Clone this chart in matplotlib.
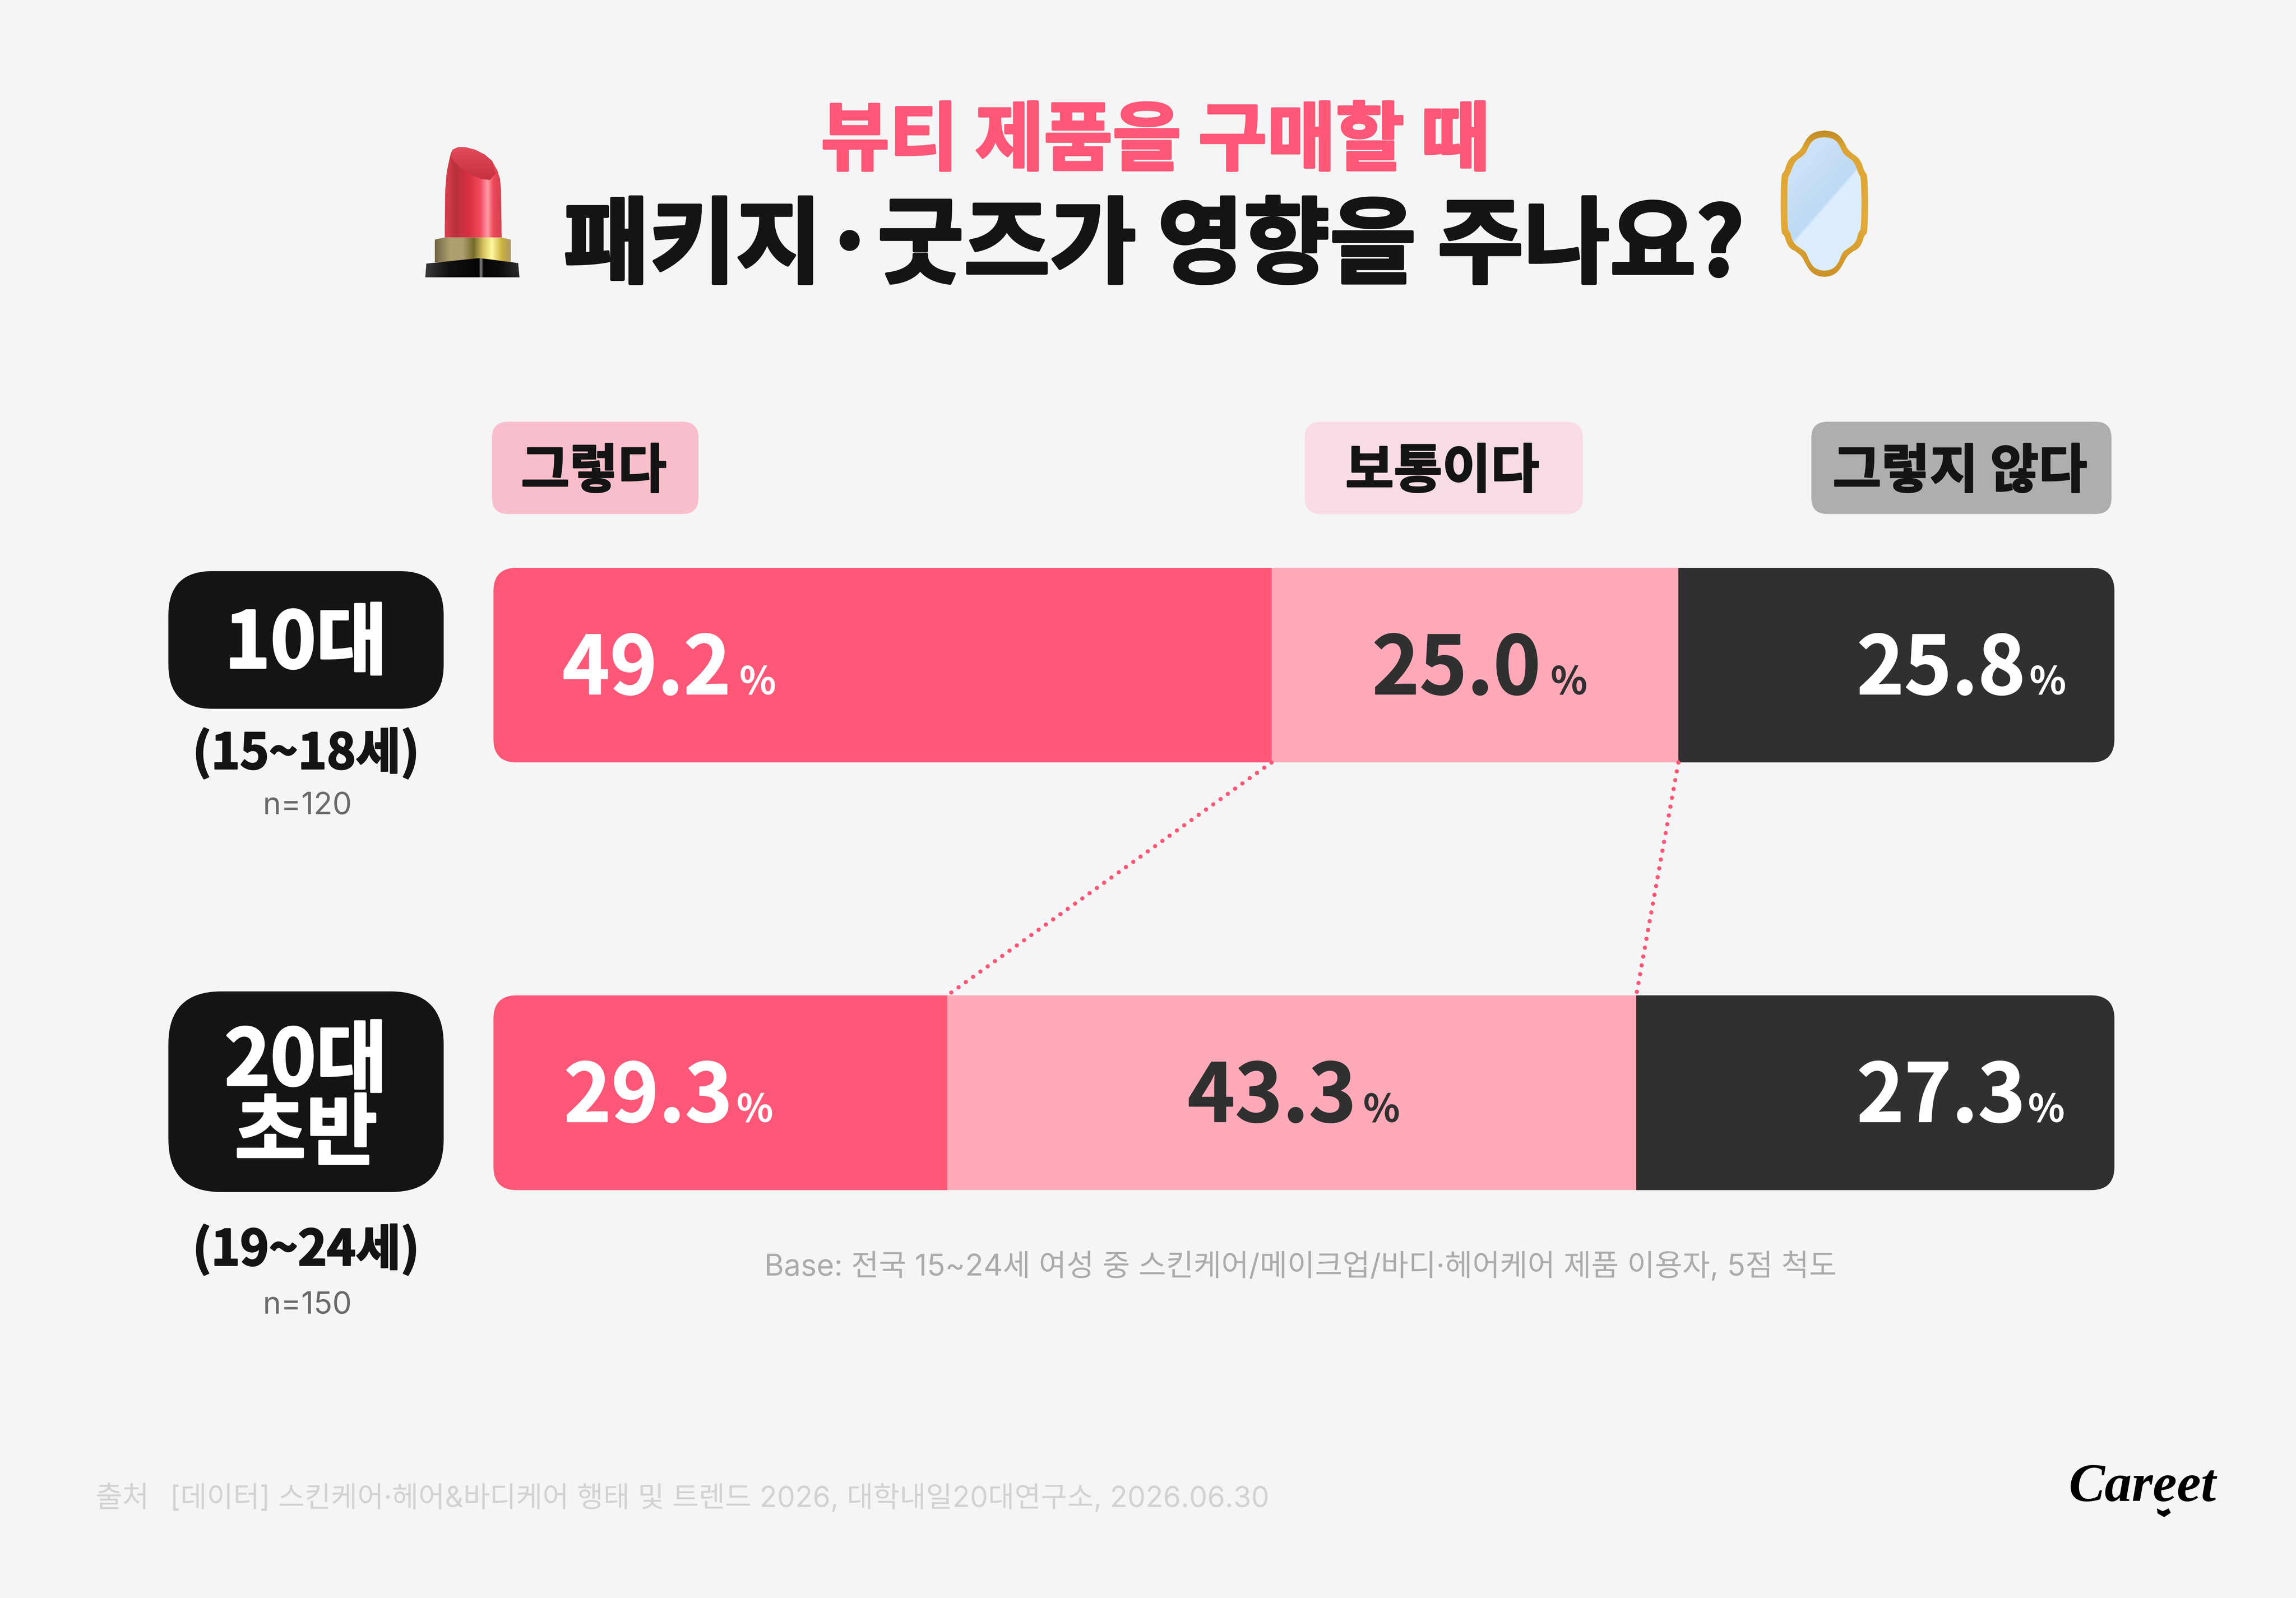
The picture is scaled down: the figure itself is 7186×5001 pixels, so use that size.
import matplotlib
matplotlib.use('Agg')
import matplotlib.pyplot as plt
import matplotlib.patheffects as pe
import numpy as np
from matplotlib.patches import FancyBboxPatch, Polygon
from matplotlib.colors import LinearSegmentedColormap

# Data: what the labels say, and the segment shares as drawn in the picture
groups = ['10대', '20대\n초반']
group_ages = ['(15~18세)', '(19~24세)']
group_n = ['n=120', 'n=150']
answers = ['그렇다', '보통이다', '그렇지 않다']
labels_10s = ['49.2', '25.0', '25.8']
labels_20s = ['29.3', '43.3', '27.3']
shares_10s = [48.0, 25.1, 26.9]
shares_20s = [28.0, 42.5, 29.5]

# Colours
BG = '#F5F5F5'
RED = '#FF5777'
PINK = '#FFA9B9'
DARK = '#303030'
BLACK = '#141414'
seg_colors = [RED, PINK, DARK]
text_colors = ['white', DARK, 'white']
tag_colors = ['#F9BECB', '#F8DCE4', '#AEAEB0']

W, H = 7186, 5001
DPI = 100
REF_W = 1568          # layout below is measured on a 1568 wide view
REF_H = REF_W * H / W
S = W / REF_W
KR = ['Noto Sans CJK KR', 'DejaVu Sans']
LATIN_KR = ['Inter', 'Noto Sans CJK KR', 'DejaVu Sans']


def fs(size):
    return size * S * 72 / DPI


fig = plt.figure(figsize=(W / DPI, H / DPI), dpi=DPI, facecolor=BG)

# full figure axes for everything that is not a bar
ov = fig.add_axes([0, 0, 1, 1], zorder=2)
ov.set_xlim(0, REF_W)
ov.set_ylim(REF_H, 0)
ov.axis('off')
ov.patch.set_alpha(0)

# bars
BAR_L, BAR_R = 337, 1444
BAR_T, BAR_B = 387.7, 812.7
ROW_H = 133
ROW_GAP = 292
bar_h = ROW_H / ROW_GAP
ax = fig.add_axes([BAR_L / REF_W, 1 - BAR_B / REF_H, (BAR_R - BAR_L) / REF_W, (BAR_B - BAR_T) / REF_H], zorder=1)
ax.set_xlim(0, 100)
ax.set_ylim(1 + bar_h / 2, -bar_h / 2)
ax.axis('off')
ax.patch.set_alpha(0)

for row, shares in enumerate([shares_10s, shares_20s]):
    clip = FancyBboxPatch((BAR_L, BAR_T + row * ROW_GAP), BAR_R - BAR_L, ROW_H,
                          boxstyle='round,pad=0,rounding_size=16', transform=ov.transData)
    left = 0
    for share, color in zip(shares, seg_colors):
        b = ax.barh(row, share, left=left, height=bar_h, color=color, linewidth=0)
        b[0].set_clip_path(clip)
        left += share

# dotted connectors between the segment edges
for k in range(2):
    x_top = sum(shares_10s[:k + 1])
    x_bot = sum(shares_20s[:k + 1])
    ax.plot([x_top, x_bot], [bar_h / 2, 1 - bar_h / 2], color=RED, lw=S * 2.9 * 72 / DPI,
            linestyle=(0, (0.01, 2.1)), dash_capstyle='round', zorder=5, clip_on=False)


def bold(x, y, s, size, color=BLACK, stroke=0.8, ha='center', va='baseline'):
    t = ov.text(x, y, s, fontsize=fs(size), color=color, family=KR, fontweight='bold', ha=ha, va=va)
    t.set_path_effects([pe.withStroke(linewidth=stroke * S * 72 / DPI, foreground=color)])
    return t


# title
bold(789, 112, '뷰티 제품을 구매할 때', 51, RED, stroke=1.6)
bold(788, 188, '패키지·굿즈가 영향을 주나요?', 64, BLACK, stroke=2.0)

# answer tags
tag_boxes = [(336, 477), (891, 1081), (1237, 1442)]
for (x0, x1), name, color in zip(tag_boxes, answers, tag_colors):
    ov.add_patch(FancyBboxPatch((x0, 288), x1 - x0, 63, boxstyle='round,pad=0,rounding_size=11',
                                fc=color, ec='none'))
    bold((x0 + x1) / 2 - 1, 333, name, 36, BLACK, stroke=1.0)

# group pills
pill_boxes = [(390, 484, 30), (677, 814, 36)]
for (y0, y1, r) in pill_boxes:
    ov.add_patch(FancyBboxPatch((115, y0), 188, y1 - y0, boxstyle=f'round,pad=0,rounding_size={r}',
                                fc=BLACK, ec='none'))
bold(209, 456, groups[0], 53, 'white', stroke=1.4)
first, second = groups[1].split('\n')
bold(209, 741, first, 53, 'white', stroke=1.4)
bold(209, 791, second, 53, 'white', stroke=1.4)

for y_age, y_n, age, n in zip([525, 864], [556, 897], group_ages, group_n):
    bold(209, y_age, age, 33.5, BLACK, stroke=1.0)
    ov.text(210, y_n, n, fontsize=fs(21), color='#6A6A6A', family=LATIN_KR, ha='center', va='baseline')

# value labels
value_x = [[384, 937, 1268], [385, 811, 1268]]
pct_x = [[505, 1059, 1386], [503, 931, 1385]]
for row, labels in enumerate([labels_10s, labels_20s]):
    base = 474 + row * ROW_GAP
    for i, lab in enumerate(labels):
        bold(value_x[row][i], base, lab, 55, text_colors[i], stroke=0.6, ha='left')
        bold(pct_x[row][i], base, '%', 26, text_colors[i], stroke=0.1, ha='left')

# notes
ov.text(522, 871, 'Base: 전국 15~24세 여성 중 스킨케어/메이크업/바디·헤어케어 제품 이용자, 5점 척도',
        fontsize=fs(20.5), color='#ABABAB', family=LATIN_KR, ha='left', va='baseline')
ov.text(65, 1029, '출처', fontsize=fs(20), color='#D2D2D2', family=LATIN_KR, ha='left', va='baseline')
ov.text(116, 1029, '[데이터] 스킨케어·헤어&바디케어 행태 및 트렌드 2026, 대학내일20대연구소, 2026.06.30',
        fontsize=fs(19.6), color='#D2D2D2', family=LATIN_KR, ha='left', va='baseline')

# logo
ov.text(1463, 1025, 'Careet', fontsize=fs(37), color='black', family=['Liberation Serif'], style='italic',
        fontweight='bold', ha='center', va='baseline')
ov.add_patch(Polygon([(1473, 1030), (1477, 1032), (1481, 1030), (1482.5, 1033), (1478, 1036), (1473.5, 1033.5)],
                     fc='black', ec='none'))


def lip(pts):
    # lipstick outline, traced on a 13.75x close-up
    return [(283.66 + x / 13.75, 93.83 + y / 13.75) for x, y in pts]


def mir(pts):
    # mirror outline, traced on a 13.75x close-up, right half mirrored to the left
    half = np.array(pts, dtype=float)
    left = np.c_[1020 - half[:, 0], half[:, 1]][::-1]
    ring = np.r_[half, left]
    for _ in range(3):  # round the corners
        nxt = np.roll(ring, -1, axis=0)
        ring = np.c_[0.75 * ring + 0.25 * nxt, 0.25 * ring + 0.75 * nxt].reshape(-1, 2)
    return np.c_[1208.8 + ring[:, 0] / 13.75, 85.1 + ring[:, 1] / 13.75]


def gradient(pts, stops, z=3, horizontal=True):
    # fill a polygon with a linear gradient across its bounding box
    patch = Polygon(pts, fc='none', ec='none', zorder=z)
    ov.add_patch(patch)
    xs, ys = zip(*pts)
    cmap = LinearSegmentedColormap.from_list('g', stops, N=512)
    g = np.linspace(0, 1, 512)
    g = g.reshape(1, -1) if horizontal else g.reshape(-1, 1)
    im = ov.imshow(g, cmap=cmap, extent=(min(xs), max(xs), max(ys), min(ys)), aspect='auto',
                   interpolation='bilinear', zorder=z)
    im.set_clip_path(patch)
    return patch


# lipstick
bullet = [(275, 940), (280, 500), (295, 320), (330, 160), (350, 115), (400, 92), (470, 92), (560, 115),
          (650, 160), (720, 220), (770, 310), (795, 390), (805, 500), (810, 940)]
gradient(lip(bullet), [(0, '#D94050'), (0.2, '#B8323C'), (0.42, '#D9303F'), (0.62, '#F04C5C'), (0.75, '#FF9AA5'),
                       (0.85, '#EC4A5A'), (1, '#D44050')])
cut = [(335, 180), (350, 115), (400, 92), (470, 92), (560, 115), (650, 160), (720, 220), (755, 340), (700, 400),
       (620, 390), (520, 350), (430, 290), (370, 230)]
gradient(lip(cut), [(0, '#E34B5B'), (1, '#C5303F')], z=4, horizontal=False)
band = [(183, 1170), (183, 960), (270, 940), (810, 940), (897, 960), (897, 1170)]
gradient(lip(band), [(0, '#6E6445'), (0.2, '#B0A070'), (0.37, '#AE9D6E'), (0.51, '#736A2A'), (0.64, '#D8C460'),
                     (0.75, '#FFF8A0'), (0.89, '#C9AE3C'), (1, '#AE9D6E')], z=5)
base_lip = [(93, 1315), (103, 1185), (583, 1135), (620, 1135), (965, 1180), (978, 1315)]
gradient(lip(base_lip), [(0, '#3A3A3A'), (0.25, '#111111'), (0.57, '#060606'), (0.59, '#888888'), (0.62, '#060606'),
                         (0.8, '#0E0E0E'), (1, '#2C2C2C')], z=6)

# mirror
rim_half = [(510, 55), (590, 65), (650, 100), (695, 160), (725, 225), (770, 270), (830, 310), (865, 370), (885, 440),
            (920, 475), (920, 1015), (885, 1040), (865, 1110), (830, 1165), (770, 1195), (720, 1240), (685, 1310),
            (640, 1380), (580, 1420), (510, 1430)]
glass_half = [(510, 118), (570, 125), (620, 150), (655, 200), (680, 260), (720, 300), (780, 340), (810, 400),
              (830, 460), (858, 500), (858, 980), (830, 1010), (815, 1080), (780, 1130), (720, 1170), (680, 1200),
              (650, 1280), (610, 1340), (560, 1365), (510, 1372)]
gradient(list(map(tuple, mir(rim_half))), [(0, '#C08A25'), (0.12, '#DCA435'), (0.6, '#E5AC3A'), (1, '#CC9228')],
         horizontal=False)
glass_pts = mir(glass_half)
glass = Polygon(glass_pts, fc='none', ec='none', zorder=4)
ov.add_patch(glass)
zx, zy = np.meshgrid(np.linspace(162, 858, 300), np.linspace(118, 1372, 500))
shade = (((zx - 240) * 640 + (zy - 1080) * 560) / 850 + 686) / 1343
shine = LinearSegmentedColormap.from_list('m', [(0, '#D6E8FC'), (0.50, '#BDD9F3'), (0.52, '#DCEDFF'), (1, '#DCEDFF')], N=512)
im = ov.imshow(shade, cmap=shine, vmin=0, vmax=1, aspect='auto', interpolation='bilinear', zorder=4,
               extent=(glass_pts[:, 0].min(), glass_pts[:, 0].max(), glass_pts[:, 1].max(), glass_pts[:, 1].min()))
im.set_clip_path(glass)

ov.set_xlim(0, REF_W)
ov.set_ylim(REF_H, 0)

fig.savefig('out.png', dpi=DPI, facecolor=BG)
